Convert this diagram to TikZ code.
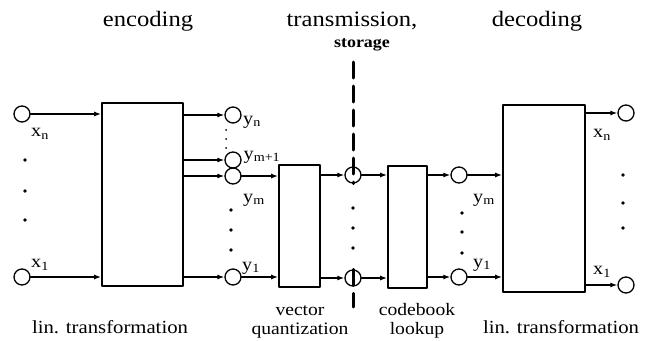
\documentclass[tikz,border=0pt]{standalone}
\usepackage{fontspec}
\setmainfont[FakeStretch=1.12]{Liberation Serif}
\usetikzlibrary{arrows.meta}

\tikzset{
    blk/.style={draw,line width=1.6pt,inner sep=0pt},
    port/.style={draw,circle,line width=1.3pt,inner sep=0pt,minimum size=16pt},
    arr/.style={line width=1.5pt,-{Latex[length=7pt,width=5pt]}},
    cut/.style={line width=3pt,dash pattern=on 16pt off 8pt},
    head/.style={font=\fontsize{22}{26}\selectfont,anchor=base},
    foot/.style={font=\fontsize{18.5}{19}\selectfont,anchor=base,align=center},
    pair/.style={font=\fontsize{17.5}{19}\selectfont,anchor=base,align=center},
    sig/.style={font=\fontsize{18}{20}\selectfont,inner sep=0pt},
}

\begin{document}
\begin{tikzpicture}[x=1pt,y=-1pt,line cap=round,line join=round]
    \useasboundingbox (0,0) rectangle (650,340);

    \node[blk,minimum width=81pt,minimum height=183pt] (ENC) at (142.5,194.5) {};
    \node[blk,minimum width=41pt,minimum height=122pt] (VQ) at (299.5,226) {};
    \node[blk,minimum width=39pt,minimum height=122pt] (CB) at (407.5,227) {};
    \node[blk,minimum width=82pt,minimum height=187pt] (DEC) at (544,198.5) {};

    \node[port] (XN) at (22,114) {};
    \node[port] (X1) at (22,277) {};
    \node[port] (YN) at (233,115) {};
    \node[port] (YM1) at (233,160) {};
    \node[port] (YM) at (233,176) {};
    \node[port] (Y1) at (233,277) {};
    \node[port] (SM) at (353,175) {};
    \node[port] (S1) at (353,278) {};
    \node[port] (RM) at (459,175) {};
    \node[port] (R1) at (459,277) {};
    \node[port] (ON) at (626,113) {};
    \node[port] (O1) at (626,285) {};

    \coordinate (DT) at (353,62);
    \coordinate (DB) at (353,307);

    \draw[arr] (XN) -- (XN -| ENC.west);
    \draw[arr] (X1) -- (X1 -| ENC.west);
    \draw[arr] (YN -| ENC.east) -- (YN);
    \draw[arr] (YM1 -| ENC.east) -- (YM1);
    \draw[arr] (YM -| ENC.east) -- (YM);
    \draw[arr] (Y1 -| ENC.east) -- (Y1);
    \draw[arr] (YM) -- (YM -| VQ.west);
    \draw[arr] (Y1) -- (Y1 -| VQ.west);
    \draw[arr] (SM -| VQ.east) -- (SM);
    \draw[arr] (S1 -| VQ.east) -- (S1);
    \draw[arr] (SM) -- (SM -| CB.west);
    \draw[arr] (S1) -- (S1 -| CB.west);
    \draw[arr] (RM -| CB.east) -- (RM);
    \draw[arr] (R1 -| CB.east) -- (R1);
    \draw[arr] (RM) -- (RM -| DEC.west);
    \draw[arr] (R1) -- (R1 -| DEC.west);
    \draw[arr] (ON -| DEC.east) -- (ON);
    \draw[arr] (O1 -| DEC.east) -- (O1);

    \draw[cut] (DT) -- (SM.south);
    \draw[cut] (S1.north) -- (DB);

    \foreach \y in {160,191,220} \fill (25,\y) circle (1.8pt);
    \foreach \y in {130,139,148} \fill (226,\y) circle (1pt);
    \foreach \y in {210,230,250} \fill (231,\y) circle (1.8pt);
    \foreach \y in {208,228,248} \fill (353,\y) circle (1.8pt);
    \foreach \y in {213,232,253} \fill (462,\y) circle (1.8pt);
    \foreach \y in {175,203,228} \fill (623,\y) circle (1.8pt);

    \node[sig] (XNL) at (40,134) {x\textsubscript{n}};
    \node[sig] (X1L) at (40,265) {x\textsubscript{1}};
    \node[sig] (YNL) at (252,122) {y\textsubscript{n}};
    \node[sig] (YM1L) at (262,157) {y\textsubscript{m+1}};
    \node[sig] (YML) at (254,200) {y\textsubscript{m}};
    \node[sig] (Y1L) at (251,268) {y\textsubscript{1}};
    \node[sig] (RML) at (484,200) {y\textsubscript{m}};
    \node[sig] (R1L) at (482,265) {y\textsubscript{1}};
    \node[sig] (ONL) at (602,135) {x\textsubscript{n}};
    \node[sig] (O1L) at (602,272) {x\textsubscript{1}};

    \node[head] (ENCT) at (148,27) {encoding};
    \node[head] (TRT) at (352,27) {transmission,};
    \node[font=\bfseries\fontsize{16}{18}\selectfont,anchor=base] (STT) at (362,47) {storage};
    \node[head] (DECT) at (537,27) {decoding};

    \node[foot] (LT1) at (110,333) {lin. transformation};
    \node[pair] (VQL) at (300,334) {vector\\quantization};
    \node[pair] (CBL) at (417,334) {codebook\\lookup};
    \node[foot] (LT2) at (561,333) {lin. transformation};
\end{tikzpicture}
\end{document}
